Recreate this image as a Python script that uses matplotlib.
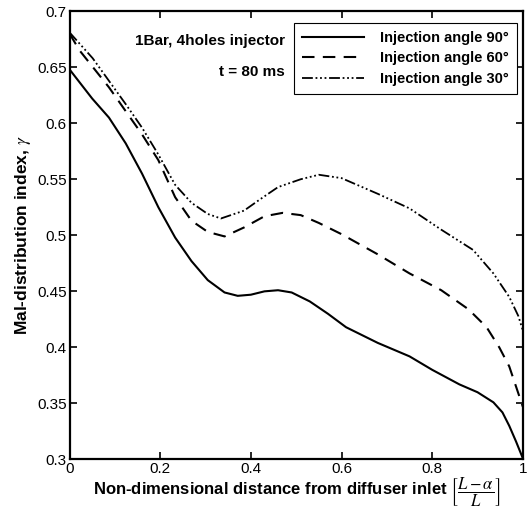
import matplotlib
matplotlib.use("Agg")
import matplotlib.pyplot as plt

plt.rcParams['font.family'] = ['Liberation Sans', 'DejaVu Sans']
plt.rcParams['mathtext.fontset'] = 'stix'

# values
x_90 = [0.0, 0.05, 0.087, 0.124, 0.16, 0.196, 0.233, 0.269, 0.305, 0.342, 0.371, 0.40, 0.43, 0.46,
        0.49, 0.53, 0.57, 0.61, 0.645, 0.68, 0.75, 0.80, 0.86, 0.90, 0.935, 0.955, 0.97, 0.985, 1.0]
y_90 = [0.648, 0.622, 0.605, 0.582, 0.555, 0.525, 0.498, 0.477, 0.460, 0.449, 0.446, 0.447, 0.450,
        0.451, 0.449, 0.441, 0.430, 0.418, 0.411, 0.404, 0.392, 0.380, 0.367, 0.360, 0.351, 0.342,
        0.330, 0.316, 0.301]

x_60 = [0.0, 0.022, 0.087, 0.16, 0.196, 0.233, 0.269, 0.305, 0.342, 0.385, 0.43, 0.47, 0.51, 0.55,
        0.6, 0.68, 0.75, 0.82, 0.88, 0.92, 0.948, 0.97, 0.985, 1.0]
y_60 = [0.680, 0.665, 0.632, 0.590, 0.567, 0.534, 0.513, 0.503, 0.499, 0.507, 0.517, 0.520, 0.518,
        0.511, 0.501, 0.483, 0.466, 0.451, 0.434, 0.418, 0.400, 0.383, 0.365, 0.347]

x_30 = [0.0, 0.051, 0.124, 0.16, 0.196, 0.233, 0.269, 0.305, 0.334, 0.385, 0.42, 0.46, 0.51, 0.55,
        0.6, 0.68, 0.75, 0.82, 0.89, 0.935, 0.97, 0.99, 1.0]
y_30 = [0.681, 0.658, 0.617, 0.596, 0.572, 0.545, 0.529, 0.519, 0.515, 0.522, 0.532, 0.543, 0.550,
        0.554, 0.551, 0.537, 0.524, 0.505, 0.487, 0.466, 0.445, 0.428, 0.415]

labels = ["Injection angle 90°", "Injection angle 60°", "Injection angle 30°"]

fig = plt.figure(figsize=(5.29, 5.16), dpi=100)
ax = fig.add_axes([0.1314, 0.1095, 0.857, 0.869])

ax.plot(x_90, y_90, color='black', linestyle='-', linewidth=1.5, label=labels[0])
ax.plot(x_60, y_60, color='black', linestyle=(0, (6, 4)), linewidth=1.5, label=labels[1])
ax.plot(x_30, y_30, color='black', linestyle=(0, (6, 1.5, 1, 1.5, 1, 1.5, 1, 1.5)),
        linewidth=1.3, label=labels[2])

ax.set_xlim(0, 1)
ax.set_ylim(0.3, 0.7)
ax.set_xticks([0, 0.2, 0.4, 0.6, 0.8, 1])
ax.set_xticklabels(['0', '0.2', '0.4', '0.6', '0.8', '1'])
ax.set_yticks([0.3, 0.35, 0.4, 0.45, 0.5, 0.55, 0.6, 0.65, 0.7])
ax.set_yticklabels(['0.3', '0.35', '0.4', '0.45', '0.5', '0.55', '0.6', '0.65', '0.7'])
ax.tick_params(direction='in', top=True, right=True, labelsize=11, length=5, width=1.2, pad=2)
for s in ax.spines.values():
    s.set_linewidth(1.6)

ax.set_ylabel(r"Mal-distribution index, $\gamma$", fontsize=12.5, fontweight='bold', labelpad=3)
ax.set_xlabel(r"Non-dimensional distance from diffuser inlet $\left[\dfrac{L-\alpha}{L}\right]$",
              fontsize=12, fontweight='bold', labelpad=0)

ax.text(0.475, 0.673, "1Bar, 4holes injector", ha='right', va='center', fontsize=11, fontweight='bold')
ax.text(0.475, 0.6455, "t = 80 ms", ha='right', va='center', fontsize=11, fontweight='bold')

leg = ax.legend(loc='upper right', bbox_to_anchor=(0.986, 0.974), borderaxespad=0, fancybox=False,
                framealpha=1, edgecolor='black', prop={'weight': 'bold', 'size': 10.5},
                handlelength=4.2, handletextpad=1.1, borderpad=0.55, labelspacing=0.45)
leg.get_frame().set_linewidth(0.8)

fig.savefig("out.png", dpi=100)
